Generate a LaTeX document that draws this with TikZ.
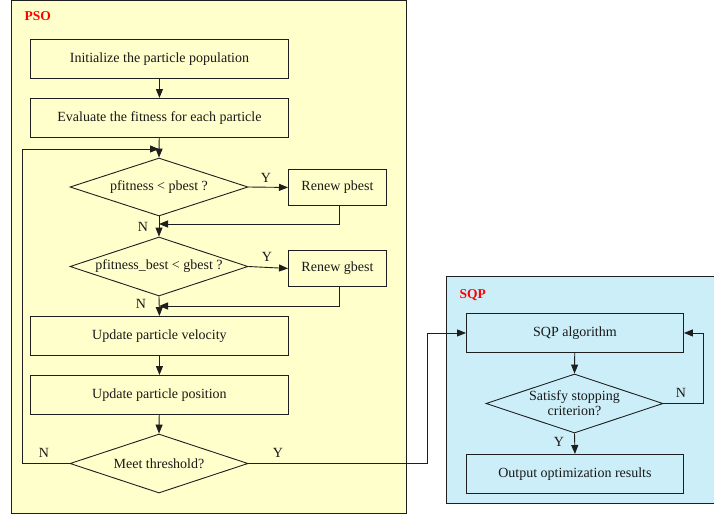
\documentclass[tikz,border=0pt]{standalone}
\usepackage{fontspec}
\setmainfont{Liberation Serif}
\usetikzlibrary{shapes.geometric,arrows.meta}
\definecolor{psofill}{HTML}{FFFFCC}
\definecolor{sqpfill}{HTML}{CCEEF8}
\definecolor{edge}{HTML}{1E1E1E}
\tikzset{
  every node/.style={font=\fontsize{14}{16}\selectfont, text=black!90},
  panel/.style={draw=edge, line width=0.8pt},
  procbox/.style={draw=edge, line width=0.9pt, rectangle, inner sep=0pt, anchor=north west},
  decision/.style={draw=edge, line width=0.9pt, diamond, aspect=3, inner sep=0pt, align=center},
  conn/.style={draw=edge, line width=0.9pt, -{Triangle[length=9pt,width=7pt]}},
  tag/.style={font=\fontsize{14}{16}\selectfont},
  title/.style={font=\fontsize{13.5}{15}\bfseries\selectfont, text=red, anchor=west}
}
\begin{document}
\begin{tikzpicture}[x=1pt,y=-1pt]
\useasboundingbox (0,0) rectangle (714,517);
% panels
\path[panel, fill=psofill] (11,0) rectangle (406,513);
\path[panel, fill=sqpfill] (446,276) rectangle (720,503);
\node[title] (psot) at (21,16) {PSO};
\node[title] (sqpt) at (456,295) {SQP};
% PSO nodes
\node[procbox, minimum width=258pt, minimum height=39pt] (init) at (30,39) {Initialize the particle population};
\node[procbox, minimum width=258pt, minimum height=39pt] (eval) at (30,98) {Evaluate the fitness for each particle};
\node[decision, minimum width=178pt, minimum height=58pt] (d1) at (159,187) {pfitness < pbest ?};
\node[procbox, minimum width=98pt, minimum height=36pt] (rp) at (288,169) {Renew pbest};
\node[decision, minimum width=178pt, minimum height=59pt] (d2) at (159,266.5) {pfitness\_best < gbest ?};
\node[procbox, minimum width=98pt, minimum height=36pt] (rg) at (288,250) {Renew gbest};
\node[procbox, minimum width=258pt, minimum height=39pt] (vel) at (30,316) {Update particle velocity};
\node[procbox, minimum width=258pt, minimum height=39pt] (pos) at (30,375) {Update particle position};
\node[decision, minimum width=178pt, minimum height=59pt] (d3) at (159,463.5) {Meet threshold?};
% SQP nodes
\node[procbox, minimum width=217pt, minimum height=39pt] (sqp) at (466,313) {SQP algorithm};
\node[decision, minimum width=177pt, minimum height=59pt] (d4) at (574.5,403.5) {Satisfy stopping\\[-1pt]criterion?};
\node[procbox, minimum width=217pt, minimum height=39pt] (out) at (466,454) {Output optimization results};
% helper coordinates
\coordinate (m1) at (159,224);
\coordinate (m2) at (159,306);
\coordinate (lt) at (159,149);
\coordinate (ll) at (22,149);
% PSO connectors
\draw[conn] (init) -- (eval);
\draw[conn] (eval) -- (d1.north);
\draw[conn] (d1.east) -- (rp.west);
\draw[conn] (d1.south) -- (d2.north);
\draw[conn] (rp.south -| 339,0) |- (m1);
\draw[conn] (d2.east) -- (rg.west);
\draw[conn] (d2.south) -- (vel.north);
\draw[conn] (rg.south -| 339,0) |- (m2);
\draw[conn] (vel) -- (pos);
\draw[conn] (pos) -- (d3.north);
\draw[conn] (d3.west) -| (ll) -- (lt);
\draw[conn] (d3.east) -- (427,463.5) |- (sqp.west);
% SQP connectors
\draw[conn] (sqp) -- (d4.north);
\draw[conn] (d4.south) -- (out.north);
\draw[conn] (d4.east) -- (703,403.5) |- (sqp.east);
% labels
\node[tag] (y1) at (266,178) {Y};
\node[tag] (n1) at (143,227) {N};
\node[tag] (y2) at (267,257) {Y};
\node[tag] (n2) at (141,304) {N};
\node[tag] (n3) at (44,453) {N};
\node[tag] (y3) at (278,453) {Y};
\node[tag] (n4) at (681,393) {N};
\node[tag] (y4) at (559,442) {Y};
\end{tikzpicture}
\end{document}
